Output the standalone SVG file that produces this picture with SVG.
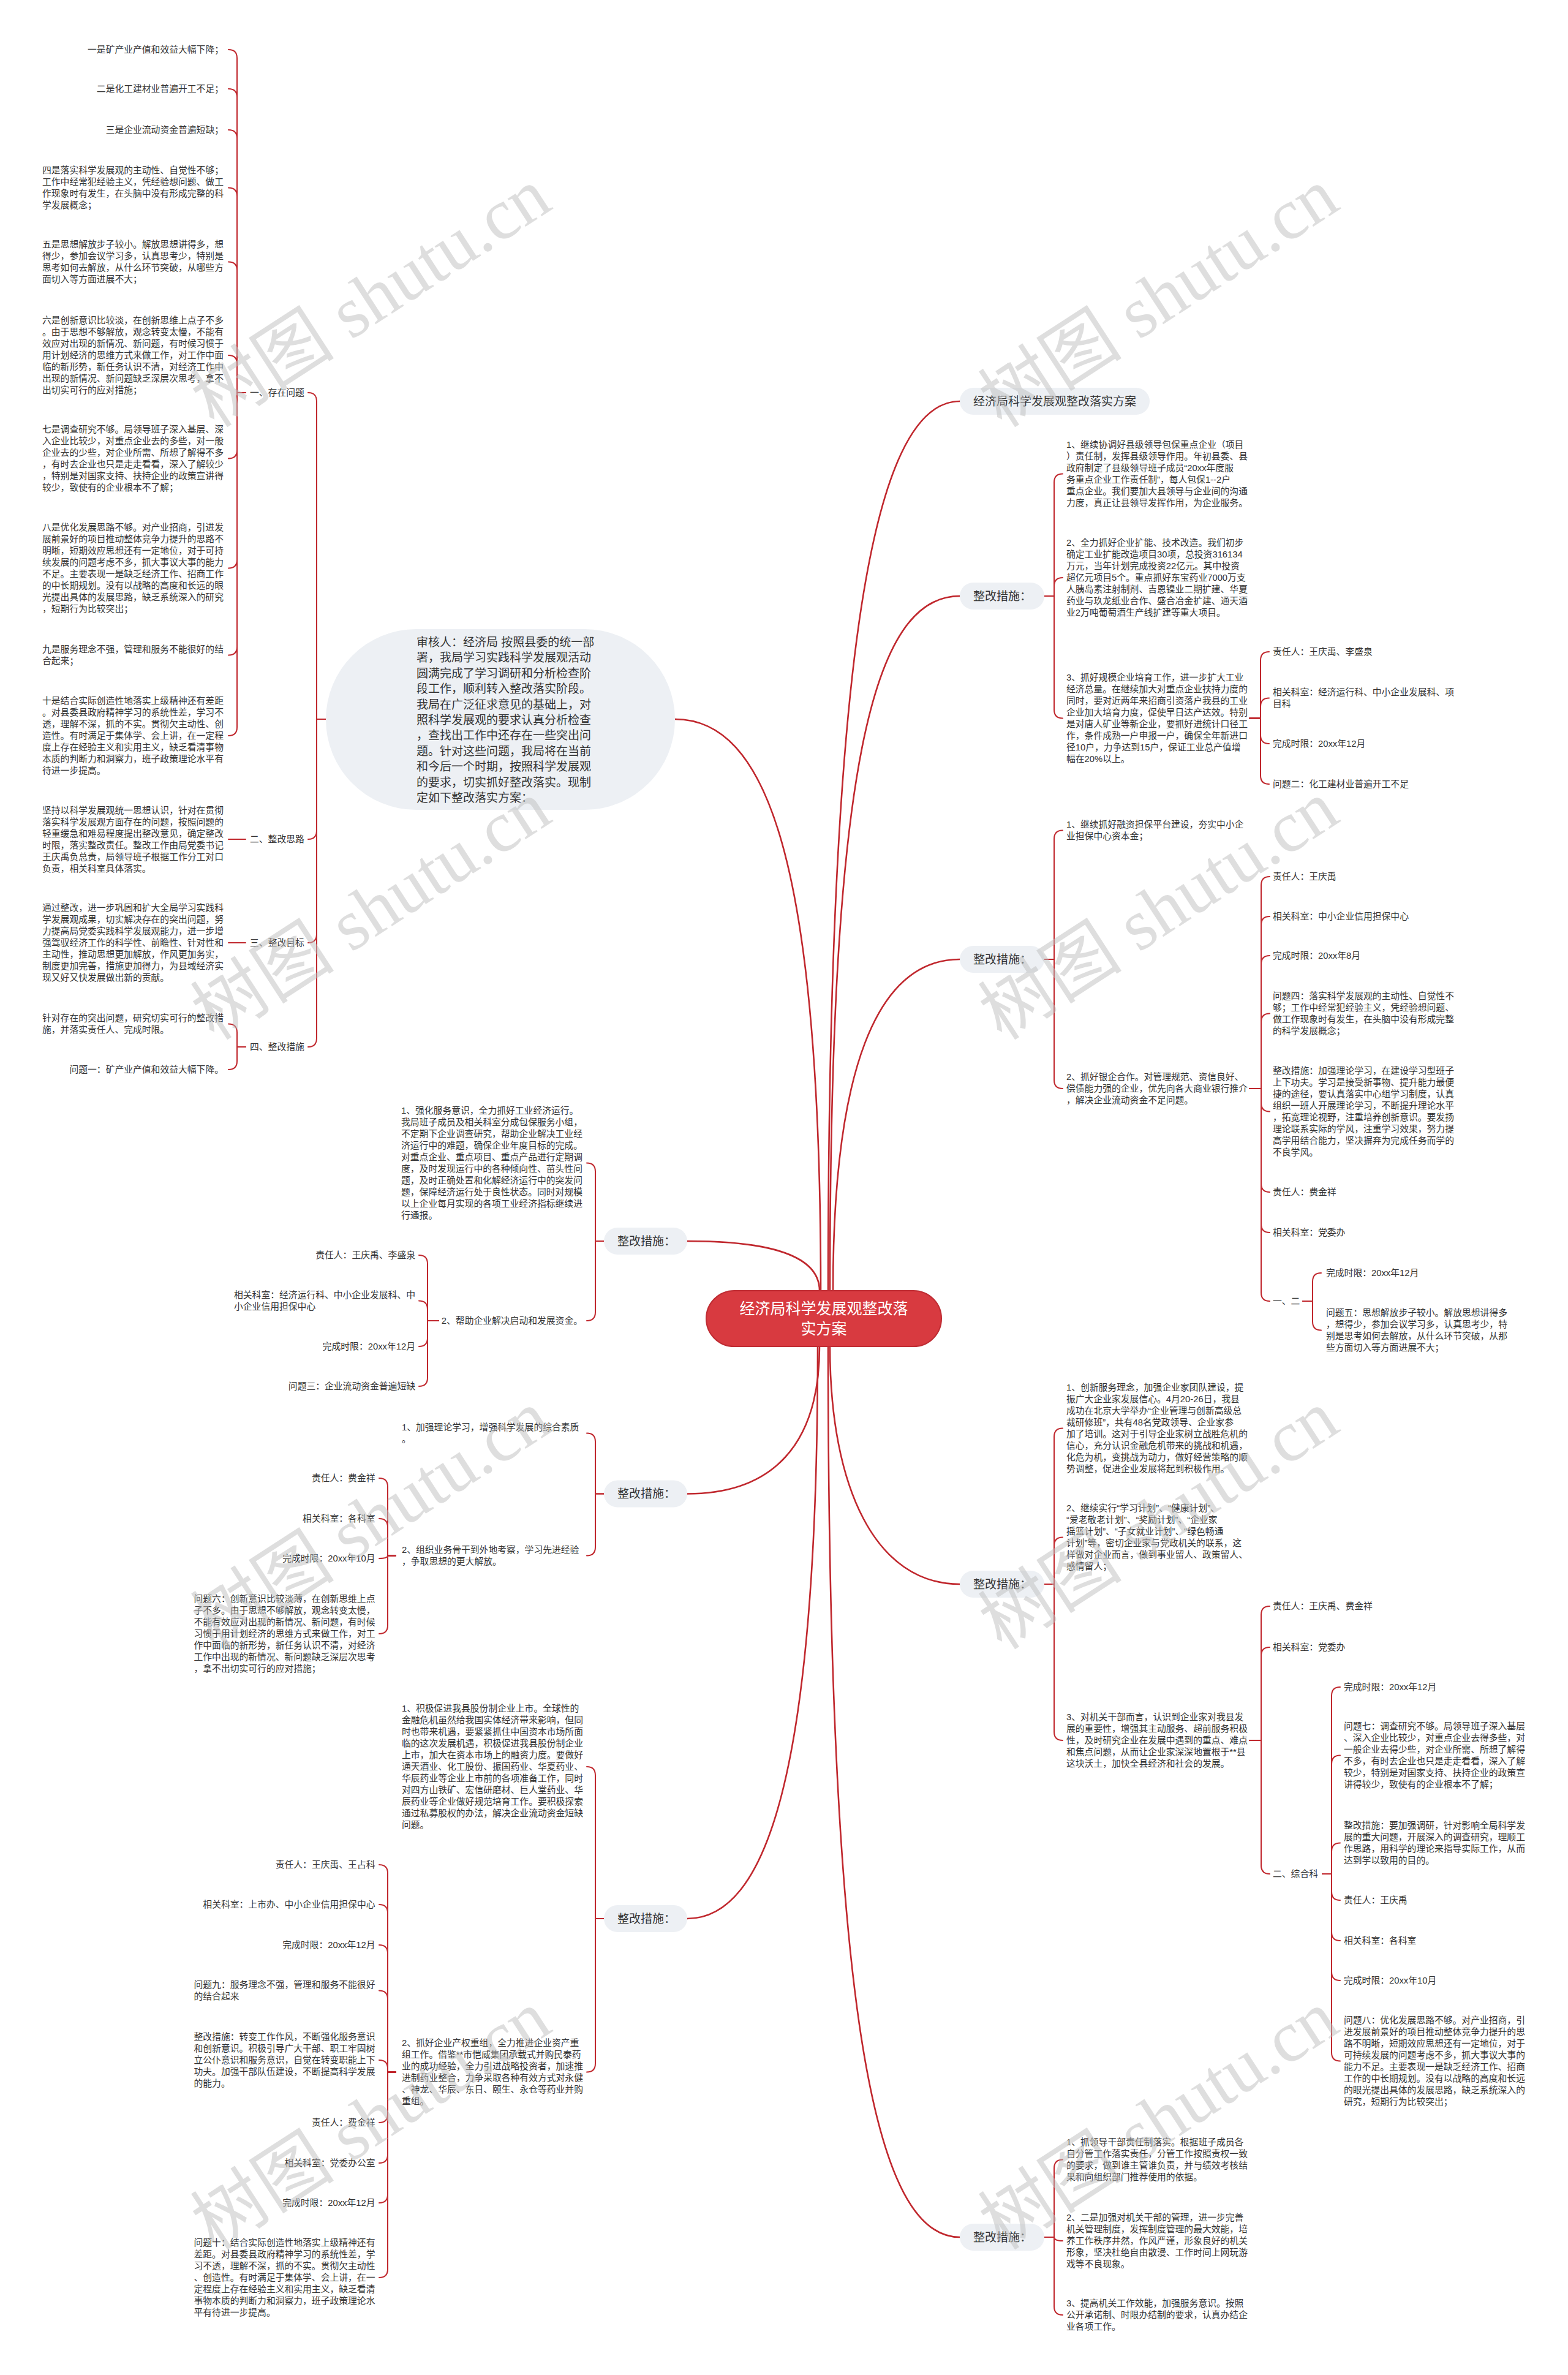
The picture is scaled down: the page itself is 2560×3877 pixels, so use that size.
<svg xmlns="http://www.w3.org/2000/svg" width="2560" height="3877" viewBox="0 0 2560 3877">
<style>
text{font-family:"Liberation Sans","Noto Sans CJK SC",sans-serif;dominant-baseline:central;fill:#333;font-size:14.8px}
.m{font-size:19px}
.r{font-size:25px;fill:#fff;text-anchor:middle}
.e{text-anchor:end}
.p{fill:#edf0f4}
.wm{font-family:"Liberation Serif","Noto Sans CJK SC",serif;font-size:118px;fill:#bdbdbd;fill-opacity:.5;dominant-baseline:alphabetic}
</style>
<rect width="2560" height="3877" fill="#fff"/>
<g id="connectors" fill="none" stroke="#c0272d" stroke-width="2" stroke-linecap="round">
<g stroke-width="2.6">
<path d="M1340 2107C1340 1400 1250 1174 1102 1174"/>
<path d="M1338 2107C1338 2050 1260 2026 1122 2026"/>
<path d="M1352 2107C1352 1100 1420 655 1567 655"/>
<path d="M1355 2107C1355 1250 1425 973 1567 973"/>
<path d="M1360 2107C1360 1750 1430 1566 1567 1566"/>
<path d="M1338 2198C1338 2360 1260 2438.5 1122 2438.5"/>
<path d="M1335 2198C1335 2900 1250 3132 1122 3132"/>
<path d="M1355 2198C1355 2430 1430 2586 1567 2586"/>
<path d="M1352 2198C1352 3300 1430 3652 1567 3652"/>
</g>
<path d="M532 1174H517V655Q517 641 503 641"/>
<path d="M532 1174H517V1356Q517 1370 503 1370"/>
<path d="M532 1174H517V1525Q517 1539 503 1539"/>
<path d="M532 1174H517V1695Q517 1709 503 1709"/>
<path d="M401 641H387V95Q387 81 373 81"/>
<path d="M401 641H387V159Q387 145 373 145"/>
<path d="M401 641H387V226Q387 212 373 212"/>
<path d="M401 641H387V320.5Q387 306.5 373 306.5"/>
<path d="M401 641H387V441.5Q387 427.5 373 427.5"/>
<path d="M401 641H387V594Q387 580 373 580"/>
<path d="M401 641H387V734.5Q387 748.5 373 748.5"/>
<path d="M401 641H387V913.5Q387 927.5 373 927.5"/>
<path d="M401 641H387V1055.5Q387 1069.5 373 1069.5"/>
<path d="M401 641H387V1187Q387 1201 373 1201"/>
<path d="M401 1370H373"/>
<path d="M401 1539H373"/>
<path d="M401 1709H387V1685.5Q387 1671.5 373 1671.5"/>
<path d="M401 1709H387V1732Q387 1746 373 1746"/>
<path d="M986 2026H972V1912.5Q972 1898.5 958 1898.5"/>
<path d="M986 2026H972V2142Q972 2156 958 2156"/>
<path d="M716 2156H698V2063Q698 2049 684 2049"/>
<path d="M716 2156H698V2137.5Q698 2123.5 684 2123.5"/>
<path d="M716 2156H698V2184Q698 2198 684 2198"/>
<path d="M716 2156H698V2249Q698 2263 684 2263"/>
<path d="M986 2438.5H972V2353.5Q972 2339.5 958 2339.5"/>
<path d="M986 2438.5H972V2525.5Q972 2539.5 958 2539.5"/>
<path d="M646 2539.5H633V2427Q633 2413 619 2413"/>
<path d="M646 2539.5H633V2493Q633 2479 619 2479"/>
<path d="M646 2539.5H633Q633 2544 619 2544"/>
<path d="M646 2539.5H633V2653Q633 2667 619 2667"/>
<path d="M986 3132H972V2898Q972 2884 958 2884"/>
<path d="M986 3132H972V3368.5Q972 3382.5 958 3382.5"/>
<path d="M646 3382.5H633V3058Q633 3044 619 3044"/>
<path d="M646 3382.5H633V3123Q633 3109 619 3109"/>
<path d="M646 3382.5H633V3189Q633 3175 619 3175"/>
<path d="M646 3382.5H633V3263.5Q633 3249.5 619 3249.5"/>
<path d="M646 3382.5H633V3377Q633 3363 619 3363"/>
<path d="M646 3382.5H633V3451Q633 3465 619 3465"/>
<path d="M646 3382.5H633V3517Q633 3531 619 3531"/>
<path d="M646 3382.5H633V3582Q633 3596 619 3596"/>
<path d="M646 3382.5H633V3704Q633 3718 619 3718"/>
<path d="M1705 973H1721V787.5Q1721 773.5 1735 773.5"/>
<path d="M1705 973H1721V957Q1721 943 1735 943"/>
<path d="M1705 973H1721V1158.5Q1721 1172.5 1735 1172.5"/>
<path d="M2040 1172.5H2058V1078Q2058 1064 2072 1064"/>
<path d="M2040 1172.5H2058V1153.5Q2058 1139.5 2072 1139.5"/>
<path d="M2040 1172.5H2058V1200Q2058 1214 2072 1214"/>
<path d="M2040 1172.5H2058V1266Q2058 1280 2072 1280"/>
<path d="M1705 1566H1721V1369.5Q1721 1355.5 1735 1355.5"/>
<path d="M1705 1566H1721V1763Q1721 1777 1735 1777"/>
<path d="M2040 1777H2059V1445Q2059 1431 2073 1431"/>
<path d="M2040 1777H2059V1510Q2059 1496 2073 1496"/>
<path d="M2040 1777H2059V1574Q2059 1560 2073 1560"/>
<path d="M2040 1777H2059V1668.5Q2059 1654.5 2073 1654.5"/>
<path d="M2040 1777H2059V1800.5Q2059 1814.5 2073 1814.5"/>
<path d="M2040 1777H2059V1932Q2059 1946 2073 1946"/>
<path d="M2040 1777H2059V1998Q2059 2012 2073 2012"/>
<path d="M2040 1777H2059V2110Q2059 2124 2073 2124"/>
<path d="M2127 2124H2143V2092Q2143 2078 2157 2078"/>
<path d="M2127 2124H2143V2157.5Q2143 2171.5 2157 2171.5"/>
<path d="M1705 2586H1721V2345.5Q1721 2331.5 1735 2331.5"/>
<path d="M1705 2586H1721V2523.5Q1721 2509.5 1735 2509.5"/>
<path d="M1705 2586H1721V2827Q1721 2841 1735 2841"/>
<path d="M2040 2841H2059V2636Q2059 2622 2073 2622"/>
<path d="M2040 2841H2059V2703Q2059 2689 2073 2689"/>
<path d="M2040 2841H2059V3045Q2059 3059 2073 3059"/>
<path d="M2159 3059H2174V2768Q2174 2754 2188 2754"/>
<path d="M2159 3059H2174V2879.5Q2174 2865.5 2188 2865.5"/>
<path d="M2159 3059H2174V3022.5Q2174 3008.5 2188 3008.5"/>
<path d="M2159 3059H2174V3088Q2174 3102 2188 3102"/>
<path d="M2159 3059H2174V3154Q2174 3168 2188 3168"/>
<path d="M2159 3059H2174V3219Q2174 3233 2188 3233"/>
<path d="M2159 3059H2174V3350.5Q2174 3364.5 2188 3364.5"/>
<path d="M1705 3652H1721V3539.5Q1721 3525.5 1735 3525.5"/>
<path d="M1705 3652H1721Q1721 3658 1735 3658"/>
<path d="M1705 3652H1721V3765Q1721 3779 1735 3779"/>
</g>

<g id="root"><rect x="1153" y="2107" width="384" height="91" rx="45.5" fill="#d83a40" stroke="#bf2c33" stroke-width="2"/><text class="r" x="1345" y="2136">经济局科学发展观整改落</text><text class="r" x="1345" y="2169">实方案</text></g>

<g id="intro"><rect x="532" y="1027" width="570" height="295" rx="147.5" class="p"/><text class="m" x="680" y="1048">审核人：经济局 按照县委的统一部<tspan x="680" dy="25.4">署，我局学习实践科学发展观活动</tspan><tspan x="680" dy="25.4">圆满完成了学习调研和分析检查阶</tspan><tspan x="680" dy="25.4">段工作，顺利转入整改落实阶段。</tspan><tspan x="680" dy="25.4">我局在广泛征求意见的基础上，对</tspan><tspan x="680" dy="25.4">照科学发展观的要求认真分析检查</tspan><tspan x="680" dy="25.4">，查找出工作中还存在一些突出问</tspan><tspan x="680" dy="25.4">题。针对这些问题，我局将在当前</tspan><tspan x="680" dy="25.4">和今后一个时期，按照科学发展观</tspan><tspan x="680" dy="25.4">的要求，切实抓好整改落实。现制</tspan><tspan x="680" dy="25.4">定如下整改落实方案：</tspan></text></g>

<g id="s1"><text x="408" y="641">一、存在问题</text></g>
<g id="s2"><text x="408" y="1370">二、整改思路</text></g>
<g id="s3"><text x="408" y="1539">三、整改目标</text></g>
<g id="s4"><text x="408" y="1709">四、整改措施</text></g>

<g id="p1"><text class="e" x="365" y="81">一是矿产业产值和效益大幅下降；</text></g>
<g id="p2"><text class="e" x="365" y="145">二是化工建材业普遍开工不足；</text></g>
<g id="p3"><text class="e" x="365" y="212">三是企业流动资金普遍短缺；</text></g>
<g id="p4"><text x="69" y="278">四是落实科学发展观的主动性、自觉性不够；<tspan x="69" dy="19">工作中经常犯经验主义，凭经验想问题、做工</tspan><tspan x="69" dy="19">作现象时有发生，在头脑中没有形成完整的科</tspan><tspan x="69" dy="19">学发展概念；</tspan></text></g>
<g id="p5"><text x="69" y="399">五是思想解放步子较小。解放思想讲得多，想<tspan x="69" dy="19">得少，参加会议学习多，认真思考少，特别是</tspan><tspan x="69" dy="19">思考如何去解放，从什么环节突破，从哪些方</tspan><tspan x="69" dy="19">面切入等方面进展不大；</tspan></text></g>
<g id="p6"><text x="69" y="523">六是创新意识比较淡，在创新思维上点子不多<tspan x="69" dy="19">。由于思想不够解放，观念转变太慢，不能有</tspan><tspan x="69" dy="19">效应对出现的新情况、新问题，有时候习惯于</tspan><tspan x="69" dy="19">用计划经济的思维方式来做工作，对工作中面</tspan><tspan x="69" dy="19">临的新形势，新任务认识不清，对经济工作中</tspan><tspan x="69" dy="19">出现的新情况、新问题缺乏深层次思考，拿不</tspan><tspan x="69" dy="19">出切实可行的应对措施；</tspan></text></g>
<g id="p7"><text x="69" y="701">七是调查研究不够。局领导班子深入基层、深<tspan x="69" dy="19">入企业比较少，对重点企业去的多些，对一般</tspan><tspan x="69" dy="19">企业去的少些，对企业所需、所想了解得不多</tspan><tspan x="69" dy="19">，有时去企业也只是走走看看，深入了解较少</tspan><tspan x="69" dy="19">，特别是对国家支持、扶持企业的政策宣讲得</tspan><tspan x="69" dy="19">较少，致使有的企业根本不了解；</tspan></text></g>
<g id="p8"><text x="69" y="861">八是优化发展思路不够。对产业招商，引进发<tspan x="69" dy="19">展前景好的项目推动整体竞争力提升的思路不</tspan><tspan x="69" dy="19">明晰，短期效应思想还有一定地位，对于可持</tspan><tspan x="69" dy="19">续发展的问题考虑不多，抓大事议大事的能力</tspan><tspan x="69" dy="19">不足。主要表现一是缺乏经济工作、招商工作</tspan><tspan x="69" dy="19">的中长期规划。没有以战略的高度和长远的眼</tspan><tspan x="69" dy="19">光提出具体的发展思路，缺乏系统深入的研究</tspan><tspan x="69" dy="19">，短期行为比较突出；</tspan></text></g>
<g id="p9"><text x="69" y="1060">九是服务理念不强，管理和服务不能很好的结<tspan x="69" dy="19">合起来；</tspan></text></g>
<g id="p10"><text x="69" y="1144">十是结合实际创造性地落实上级精神还有差距<tspan x="69" dy="19">。对县委县政府精神学习的系统性差，学习不</tspan><tspan x="69" dy="19">透，理解不深，抓的不实。贯彻欠主动性、创</tspan><tspan x="69" dy="19">造性。有时满足于集体学、会上讲，在一定程</tspan><tspan x="69" dy="19">度上存在经验主义和实用主义，缺乏看清事物</tspan><tspan x="69" dy="19">本质的判断力和洞察力，班子政策理论水平有</tspan><tspan x="69" dy="19">待进一步提高。</tspan></text></g>
<g id="q2"><text x="69" y="1323">坚持以科学发展观统一思想认识，针对在贯彻<tspan x="69" dy="19">落实科学发展观方面存在的问题，按照问题的</tspan><tspan x="69" dy="19">轻重缓急和难易程度提出整改意见，确定整改</tspan><tspan x="69" dy="19">时限，落实整改责任。整改工作由局党委书记</tspan><tspan x="69" dy="19">王庆禹负总责，局领导班子根据工作分工对口</tspan><tspan x="69" dy="19">负责，相关科室具体落实。</tspan></text></g>
<g id="q3"><text x="69" y="1482">通过整改，进一步巩固和扩大全局学习实践科<tspan x="69" dy="19">学发展观成果，切实解决存在的突出问题，努</tspan><tspan x="69" dy="19">力提高局党委实践科学发展观能力，进一步增</tspan><tspan x="69" dy="19">强驾驭经济工作的科学性、前瞻性、针对性和</tspan><tspan x="69" dy="19">主动性，推动思想更加解放，作风更加务实，</tspan><tspan x="69" dy="19">制度更加完善，措施更加得力，为县域经济实</tspan><tspan x="69" dy="19">现又好又快发展做出新的贡献。</tspan></text></g>
<g id="q4a"><text x="69" y="1662">针对存在的突出问题，研究切实可行的整改措<tspan x="69" dy="19">施，并落实责任人、完成时限。</tspan></text></g>
<g id="q4b"><text class="e" x="365" y="1746">问题一：矿产业产值和效益大幅下降。</text></g>

<g id="L1"><rect x="986" y="2004" width="136" height="44" rx="22" class="p"/><text class="m" x="1008" y="2026">整改措施：</text></g>
<g id="L1a"><text x="655" y="1813">1、强化服务意识，全力抓好工业经济运行。<tspan x="655" dy="19">我局班子成员及相关科室分成包保服务小组，</tspan><tspan x="655" dy="19">不定期下企业调查研究，帮助企业解决工业经</tspan><tspan x="655" dy="19">济运行中的难题，确保企业年度目标的完成。</tspan><tspan x="655" dy="19">对重点企业、重点项目、重点产品进行定期调</tspan><tspan x="655" dy="19">度，及时发现运行中的各种倾向性、苗头性问</tspan><tspan x="655" dy="19">题，及时正确处置和化解经济运行中的突发问</tspan><tspan x="655" dy="19">题，保障经济运行处于良性状态。同时对规模</tspan><tspan x="655" dy="19">以上企业每月实现的各项工业经济指标继续进</tspan><tspan x="655" dy="19">行通报。</tspan></text></g>
<g id="L1b"><text class="e" x="951" y="2156">2、帮助企业解决启动和发展资金。</text></g>
<g id="L1b1"><text class="e" x="678" y="2049">责任人：王庆禹、李盛泉</text></g>
<g id="L1b2"><text x="382" y="2114">相关科室：经济运行科、中小企业发展科、中<tspan x="382" dy="19">小企业信用担保中心</tspan></text></g>
<g id="L1b3"><text class="e" x="678" y="2198">完成时限：20xx年12月</text></g>
<g id="L1b4"><text class="e" x="678" y="2263">问题三：企业流动资金普遍短缺</text></g>

<g id="L2"><rect x="986" y="2416.5" width="136" height="44" rx="22" class="p"/><text class="m" x="1008" y="2438.5">整改措施：</text></g>
<g id="L2a"><text x="656" y="2330">1、加强理论学习，增强科学发展的综合素质<tspan x="656" dy="19">。</tspan></text></g>
<g id="L2b"><text x="656" y="2530">2、组织业务骨干到外地考察，学习先进经验<tspan x="656" dy="19">，争取思想的更大解放。</tspan></text></g>
<g id="L2b1"><text class="e" x="612.5" y="2413">责任人：费金祥</text></g>
<g id="L2b2"><text class="e" x="612.5" y="2479">相关科室：各科室</text></g>
<g id="L2b3"><text class="e" x="612.5" y="2544">完成时限：20xx年10月</text></g>
<g id="L2b4"><text x="316.5" y="2610">问题六：创新意识比较淡薄，在创新思维上点<tspan x="316.5" dy="19">子不多。由于思想不够解放，观念转变太慢，</tspan><tspan x="316.5" dy="19">不能有效应对出现的新情况、新问题，有时候</tspan><tspan x="316.5" dy="19">习惯于用计划经济的思维方式来做工作，对工</tspan><tspan x="316.5" dy="19">作中面临的新形势，新任务认识不清，对经济</tspan><tspan x="316.5" dy="19">工作中出现的新情况、新问题缺乏深层次思考</tspan><tspan x="316.5" dy="19">，拿不出切实可行的应对措施；</tspan></text></g>

<g id="L3"><rect x="986" y="3110" width="136" height="44" rx="22" class="p"/><text class="m" x="1008" y="3132">整改措施：</text></g>
<g id="L3a"><text x="656" y="2789">1、积极促进我县股份制企业上市。全球性的<tspan x="656" dy="19">金融危机虽然给我国实体经济带来影响，但同</tspan><tspan x="656" dy="19">时也带来机遇，要紧紧抓住中国资本市场所面</tspan><tspan x="656" dy="19">临的这次发展机遇，积极促进我县股份制企业</tspan><tspan x="656" dy="19">上市，加大在资本市场上的融资力度。要做好</tspan><tspan x="656" dy="19">通天酒业、化工股份、振国药业、华夏药业、</tspan><tspan x="656" dy="19">华辰药业等企业上市前的各项准备工作，同时</tspan><tspan x="656" dy="19">对四方山铁矿、宏信研磨材、巨人堂药业、华</tspan><tspan x="656" dy="19">辰药业等企业做好规范培育工作。要积极探索</tspan><tspan x="656" dy="19">通过私募股权的办法，解决企业流动资金短缺</tspan><tspan x="656" dy="19">问题。</tspan></text></g>
<g id="L3b"><text x="656" y="3335">2、抓好企业产权重组，全力推进企业资产重<tspan x="656" dy="19">组工作。借鉴**市恺威集团承载式并购民泰药</tspan><tspan x="656" dy="19">业的成功经验，全力引进战略投资者，加速推</tspan><tspan x="656" dy="19">进制药业整合，力争采取各种有效方式对永健</tspan><tspan x="656" dy="19">、神龙、华辰、东日、颐生、永仓等药业并购</tspan><tspan x="656" dy="19">重组。</tspan></text></g>
<g id="L3b1"><text class="e" x="612.5" y="3044">责任人：王庆禹、王占科</text></g>
<g id="L3b2"><text class="e" x="612.5" y="3109">相关科室：上市办、中小企业信用担保中心</text></g>
<g id="L3b3"><text class="e" x="612.5" y="3175">完成时限：20xx年12月</text></g>
<g id="L3b4"><text x="316.5" y="3240">问题九：服务理念不强，管理和服务不能很好<tspan x="316.5" dy="19">的结合起来</tspan></text></g>
<g id="L3b5"><text x="316.5" y="3325">整改措施：转变工作作风，不断强化服务意识<tspan x="316.5" dy="19">和创新意识。积极引导广大干部、职工牢固树</tspan><tspan x="316.5" dy="19">立公仆意识和服务意识，自觉在转变职能上下</tspan><tspan x="316.5" dy="19">功夫。加强干部队伍建设，不断提高科学发展</tspan><tspan x="316.5" dy="19">的能力。</tspan></text></g>
<g id="L3b6"><text class="e" x="612.5" y="3465">责任人：费金祥</text></g>
<g id="L3b7"><text class="e" x="612.5" y="3531">相关科室：党委办公室</text></g>
<g id="L3b8"><text class="e" x="612.5" y="3596">完成时限：20xx年12月</text></g>
<g id="L3b9"><text x="316.5" y="3661">问题十：结合实际创造性地落实上级精神还有<tspan x="316.5" dy="19">差距。对县委县政府精神学习的系统性差，学</tspan><tspan x="316.5" dy="19">习不透，理解不深，抓的不实。贯彻欠主动性</tspan><tspan x="316.5" dy="19">、创造性。有时满足于集体学、会上讲，在一</tspan><tspan x="316.5" dy="19">定程度上存在经验主义和实用主义，缺乏看清</tspan><tspan x="316.5" dy="19">事物本质的判断力和洞察力，班子政策理论水</tspan><tspan x="316.5" dy="19">平有待进一步提高。</tspan></text></g>

<g id="R1"><rect x="1567" y="633" width="310" height="44" rx="22" class="p"/><text class="m" x="1589" y="655">经济局科学发展观整改落实方案</text></g>

<g id="R2"><rect x="1567" y="951" width="138" height="44" rx="22" class="p"/><text class="m" x="1589" y="973">整改措施：</text></g>
<g id="R2a"><text x="1741" y="726">1、继续协调好县级领导包保重点企业（项目<tspan x="1741" dy="19">）责任制，发挥县级领导作用。年初县委、县</tspan><tspan x="1741" dy="19">政府制定了县级领导班子成员“20xx年度服</tspan><tspan x="1741" dy="19">务重点企业工作责任制”，每人包保1--2户</tspan><tspan x="1741" dy="19">重点企业。我们要加大县领导与企业间的沟通</tspan><tspan x="1741" dy="19">力度，真正让县领导发挥作用，为企业服务。</tspan></text></g>
<g id="R2b"><text x="1741" y="886">2、全力抓好企业扩能、技术改造。我们初步<tspan x="1741" dy="19">确定工业扩能改造项目30项，总投资316134</tspan><tspan x="1741" dy="19">万元，当年计划完成投资22亿元。其中投资</tspan><tspan x="1741" dy="19">超亿元项目5个。重点抓好东宝药业7000万支</tspan><tspan x="1741" dy="19">人胰岛素注射制剂、吉恩镍业二期扩建、华夏</tspan><tspan x="1741" dy="19">药业与玖龙纸业合作、盛合冶金扩建、通天酒</tspan><tspan x="1741" dy="19">业2万吨葡萄酒生产线扩建等重大项目。</tspan></text></g>
<g id="R2c"><text x="1741" y="1106">3、抓好规模企业培育工作，进一步扩大工业<tspan x="1741" dy="19">经济总量。在继续加大对重点企业扶持力度的</tspan><tspan x="1741" dy="19">同时，要对近两年来招商引资落户我县的工业</tspan><tspan x="1741" dy="19">企业加大培育力度，促使早日达产达效。特别</tspan><tspan x="1741" dy="19">是对唐人矿业等新企业，要抓好进统计口径工</tspan><tspan x="1741" dy="19">作，条件成熟一户申报一户，确保全年新进口</tspan><tspan x="1741" dy="19">径10户，力争达到15户，保证工业总产值增</tspan><tspan x="1741" dy="19">幅在20%以上。</tspan></text></g>
<g id="R2c1"><text x="2078" y="1064">责任人：王庆禹、李盛泉</text></g>
<g id="R2c2"><text x="2078" y="1130">相关科室：经济运行科、中小企业发展科、项<tspan x="2078" dy="19">目科</tspan></text></g>
<g id="R2c3"><text x="2078" y="1214">完成时限：20xx年12月</text></g>
<g id="R2c4"><text x="2078" y="1280">问题二：化工建材业普遍开工不足</text></g>

<g id="R3"><rect x="1567" y="1544" width="138" height="44" rx="22" class="p"/><text class="m" x="1589" y="1566">整改措施：</text></g>
<g id="R3a"><text x="1741" y="1346">1、继续抓好融资担保平台建设，夯实中小企<tspan x="1741" dy="19">业担保中心资本金；</tspan></text></g>
<g id="R3b"><text x="1741" y="1758">2、抓好银企合作。对管理规范、资信良好、<tspan x="1741" dy="19">偿债能力强的企业，优先向各大商业银行推介</tspan><tspan x="1741" dy="19">，解决企业流动资金不足问题。</tspan></text></g>
<g id="R3b1"><text x="2078" y="1431">责任人：王庆禹</text></g>
<g id="R3b2"><text x="2078" y="1496">相关科室：中小企业信用担保中心</text></g>
<g id="R3b3"><text x="2078" y="1560">完成时限：20xx年8月</text></g>
<g id="R3b4"><text x="2078" y="1626">问题四：落实科学发展观的主动性、自觉性不<tspan x="2078" dy="19">够；工作中经常犯经验主义，凭经验想问题、</tspan><tspan x="2078" dy="19">做工作现象时有发生，在头脑中没有形成完整</tspan><tspan x="2078" dy="19">的科学发展概念；</tspan></text></g>
<g id="R3b5"><text x="2078" y="1748">整改措施：加强理论学习，在建设学习型班子<tspan x="2078" dy="19">上下功夫。学习是接受新事物、提升能力最便</tspan><tspan x="2078" dy="19">捷的途径，要认真落实中心组学习制度，认真</tspan><tspan x="2078" dy="19">组织一班人开展理论学习，不断提升理论水平</tspan><tspan x="2078" dy="19">，拓宽理论视野，注重培养创新意识。要发扬</tspan><tspan x="2078" dy="19">理论联系实际的学风，注重学习效果，努力提</tspan><tspan x="2078" dy="19">高学用结合能力，坚决摒弃为完成任务而学的</tspan><tspan x="2078" dy="19">不良学风。</tspan></text></g>
<g id="R3b6"><text x="2078" y="1946">责任人：费金祥</text></g>
<g id="R3b7"><text x="2078" y="2012">相关科室：党委办</text></g>
<g id="R3b8"><text x="2078" y="2124">一、二</text></g>
<g id="R3b81"><text x="2165" y="2078">完成时限：20xx年12月</text></g>
<g id="R3b82"><text x="2165" y="2143">问题五：思想解放步子较小。解放思想讲得多<tspan x="2165" dy="19">，想得少，参加会议学习多，认真思考少，特</tspan><tspan x="2165" dy="19">别是思考如何去解放，从什么环节突破，从那</tspan><tspan x="2165" dy="19">些方面切入等方面进展不大；</tspan></text></g>

<g id="R4"><rect x="1567" y="2564" width="138" height="44" rx="22" class="p"/><text class="m" x="1589" y="2586">整改措施：</text></g>
<g id="R4a"><text x="1741" y="2265">1、创新服务理念，加强企业家团队建设，提<tspan x="1741" dy="19">振广大企业家发展信心。4月20-26日，我县</tspan><tspan x="1741" dy="19">成功在北京大学举办“企业管理与创新高级总</tspan><tspan x="1741" dy="19">裁研修班”，共有48名党政领导、企业家参</tspan><tspan x="1741" dy="19">加了培训。这对于引导企业家树立战胜危机的</tspan><tspan x="1741" dy="19">信心，充分认识金融危机带来的挑战和机遇，</tspan><tspan x="1741" dy="19">化危为机，变挑战为动力，做好经营策略的顺</tspan><tspan x="1741" dy="19">势调整，促进企业发展将起到积极作用。</tspan></text></g>
<g id="R4b"><text x="1741" y="2462">2、继续实行“学习计划”、“健康计划”、<tspan x="1741" dy="19">“爱老敬老计划”、“奖励计划”、“企业家</tspan><tspan x="1741" dy="19">摇篮计划”、“子女就业计划”、“绿色畅通</tspan><tspan x="1741" dy="19">计划”等，密切企业家与党政机关的联系，这</tspan><tspan x="1741" dy="19">样做对企业而言，做到事业留人、政策留人、</tspan><tspan x="1741" dy="19">感情留人；</tspan></text></g>
<g id="R4c"><text x="1741" y="2803">3、对机关干部而言，认识到企业家对我县发<tspan x="1741" dy="19">展的重要性，增强其主动服务、超前服务积极</tspan><tspan x="1741" dy="19">性，及时研究企业在发展中遇到的重点、难点</tspan><tspan x="1741" dy="19">和焦点问题，从而让企业家深深地置根于**县</tspan><tspan x="1741" dy="19">这块沃土，加快全县经济和社会的发展。</tspan></text></g>
<g id="R4c1"><text x="2078" y="2622">责任人：王庆禹、费金祥</text></g>
<g id="R4c2"><text x="2078" y="2689">相关科室：党委办</text></g>
<g id="R4c3"><text x="2078" y="3059">二、综合科</text></g>
<g id="R4c31"><text x="2194" y="2754">完成时限：20xx年12月</text></g>
<g id="R4c32"><text x="2194" y="2818">问题七：调查研究不够。局领导班子深入基层<tspan x="2194" dy="19">、深入企业比较少，对重点企业去得多些，对</tspan><tspan x="2194" dy="19">一般企业去得少些，对企业所需、所想了解得</tspan><tspan x="2194" dy="19">不多，有时去企业也只是走走看看，深入了解</tspan><tspan x="2194" dy="19">较少，特别是对国家支持、扶持企业的政策宣</tspan><tspan x="2194" dy="19">讲得较少，致使有的企业根本不了解；</tspan></text></g>
<g id="R4c33"><text x="2194" y="2980">整改措施：要加强调研，针对影响全局科学发<tspan x="2194" dy="19">展的重大问题，开展深入的调查研究，理顺工</tspan><tspan x="2194" dy="19">作思路，用科学的理论来指导实际工作，从而</tspan><tspan x="2194" dy="19">达到学以致用的目的。</tspan></text></g>
<g id="R4c34"><text x="2194" y="3102">责任人：王庆禹</text></g>
<g id="R4c35"><text x="2194" y="3168">相关科室：各科室</text></g>
<g id="R4c36"><text x="2194" y="3233">完成时限：20xx年10月</text></g>
<g id="R4c37"><text x="2194" y="3298">问题八：优化发展思路不够。对产业招商，引<tspan x="2194" dy="19">进发展前景好的项目推动整体竞争力提升的思</tspan><tspan x="2194" dy="19">路不明晰，短期效应思想还有一定地位，对于</tspan><tspan x="2194" dy="19">可持续发展的问题考虑不多，抓大事议大事的</tspan><tspan x="2194" dy="19">能力不足。主要表现一是缺乏经济工作、招商</tspan><tspan x="2194" dy="19">工作的中长期规划。没有以战略的高度和长远</tspan><tspan x="2194" dy="19">的眼光提出具体的发展思路，缺乏系统深入的</tspan><tspan x="2194" dy="19">研究，短期行为比较突出；</tspan></text></g>

<g id="R5"><rect x="1567" y="3630" width="138" height="44" rx="22" class="p"/><text class="m" x="1589" y="3652">整改措施：</text></g>
<g id="R5a"><text x="1741" y="3497">1、抓领导干部责任制落实。根据班子成员各<tspan x="1741" dy="19">自分管工作落实责任，分管工作按照责权一致</tspan><tspan x="1741" dy="19">的要求，做到谁主管谁负责，并与绩效考核结</tspan><tspan x="1741" dy="19">果和向组织部门推荐使用的依据。</tspan></text></g>
<g id="R5b"><text x="1741" y="3620">2、二是加强对机关干部的管理，进一步完善<tspan x="1741" dy="19">机关管理制度，发挥制度管理的最大效能，培</tspan><tspan x="1741" dy="19">养工作秩序井然，作风严谨，形象良好的机关</tspan><tspan x="1741" dy="19">形象，坚决杜绝自由散漫、工作时间上网玩游</tspan><tspan x="1741" dy="19">戏等不良现象。</tspan></text></g>
<g id="R5c"><text x="1741" y="3760">3、提高机关工作效能，加强服务意识。按照<tspan x="1741" dy="19">公开承诺制、时限办结制的要求，认真办结企</tspan><tspan x="1741" dy="19">业各项工作。</tspan></text></g>

<g id="watermark">
<text class="wm" x="350" y="700" transform="rotate(-33 350 700)">树图 shutu.cn</text>
<text class="wm" x="350" y="1700" transform="rotate(-33 350 1700)">树图 shutu.cn</text>
<text class="wm" x="350" y="2695" transform="rotate(-33 350 2695)">树图 shutu.cn</text>
<text class="wm" x="350" y="3675" transform="rotate(-33 350 3675)">树图 shutu.cn</text>
<text class="wm" x="1636" y="700" transform="rotate(-33 1636 700)">树图 shutu.cn</text>
<text class="wm" x="1636" y="1700" transform="rotate(-33 1636 1700)">树图 shutu.cn</text>
<text class="wm" x="1636" y="2695" transform="rotate(-33 1636 2695)">树图 shutu.cn</text>
<text class="wm" x="1636" y="3675" transform="rotate(-33 1636 3675)">树图 shutu.cn</text>
</g>
</svg>
